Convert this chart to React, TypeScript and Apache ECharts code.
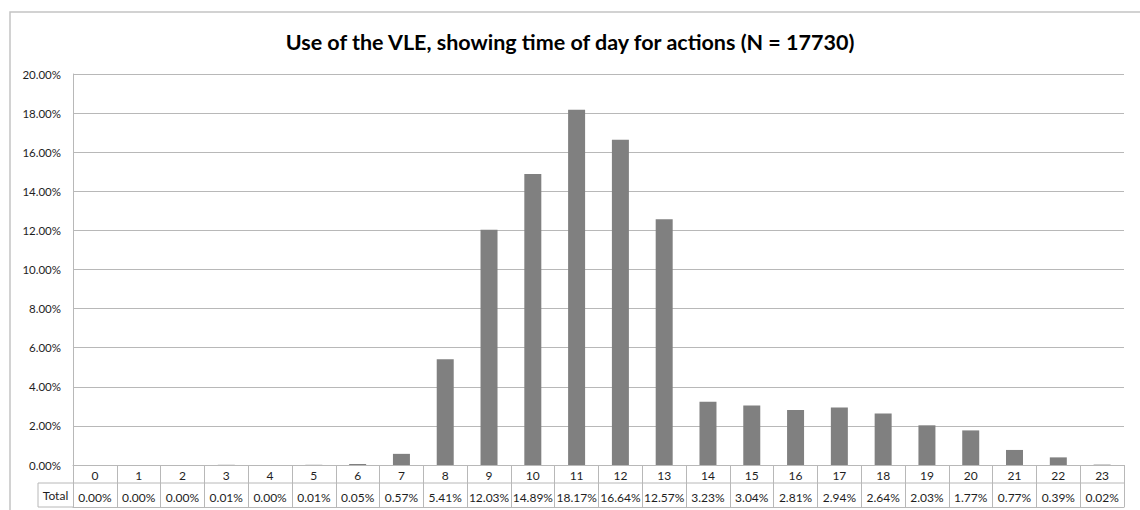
import React, { useEffect, useRef } from "react";
import * as echarts from "echarts";

const hours = ["0","1","2","3","4","5","6","7","8","9","10","11","12","13","14","15","16","17","18","19","20","21","22","23"];
const shares = [0.00, 0.00, 0.00, 0.01, 0.00, 0.01, 0.05, 0.57, 5.41, 12.03, 14.89, 18.17, 16.64, 12.57, 3.23, 3.04, 2.81, 2.94, 2.64, 2.03, 1.77, 0.77, 0.39, 0.02];
const titleText = "Use of the VLE, showing time of day for actions (N = 17730)";
const rowLabel = "Total";

const FONT = "Lato, 'Liberation Sans', sans-serif";
const GRID_LEFT = 73;
const GRID_TOP = 74;
const GRID_RIGHT = 16;
const GRID_BOTTOM = 45;
const ROW1 = 18;
const ROW_TOTAL = 42;
const W = 1140;
const H = 510;
const LINE = "#b8b8b8";
const TXT = "#1e1e1e";
const FS = 11.5;
const FS_TABLE = 12;

export default function App() {
  const ref = useRef<HTMLDivElement>(null);
  useEffect(() => {
    if (!ref.current) return;
    const chart = echarts.init(ref.current, undefined, { renderer: "svg" });
    const axisY = H - GRID_BOTTOM;
    const rightX = W - GRID_RIGHT;
    chart.setOption({
      animation: false,
      backgroundColor: "#ffffff",
      title: {
        text: titleText,
        left: "center",
        top: 26,
        textStyle: { fontFamily: FONT, fontSize: 21.5, fontWeight: "bold", color: "#000" },
      },
      grid: { left: GRID_LEFT, top: GRID_TOP, right: GRID_RIGHT, bottom: GRID_BOTTOM, containLabel: false },
      xAxis: [
        {
          type: "category",
          data: hours,
          position: "bottom",
          axisLine: { show: true, lineStyle: { color: LINE, width: 1 } },
          axisTick: { show: true, length: ROW_TOTAL, interval: 0, lineStyle: { color: LINE, width: 1 } },
          axisLabel: { interval: 0, margin: 4, fontFamily: FONT, fontSize: FS_TABLE, color: TXT },
        },
        {
          type: "category",
          data: shares.map((v) => v.toFixed(2) + "%"),
          position: "bottom",
          offset: ROW_TOTAL,
          axisLine: { show: true, lineStyle: { color: LINE, width: 1 } },
          axisTick: { show: false },
          axisLabel: { interval: 0, inside: true, margin: 4, fontFamily: FONT, fontSize: FS_TABLE, color: TXT },
        },
      ],
      yAxis: {
        type: "value",
        min: 0,
        max: 20,
        interval: 2,
        axisLine: { show: true, lineStyle: { color: LINE, width: 1 } },
        axisTick: { show: false },
        splitLine: { show: true, lineStyle: { color: LINE, width: 1 } },
        axisLabel: {
          margin: 12,
          fontFamily: FONT,
          fontSize: FS,
          color: TXT,
          formatter: (v: number) => v.toFixed(2) + "%",
        },
      },
      series: [
        {
          type: "bar",
          data: shares,
          barWidth: 17,
          itemStyle: { color: "#808080" },
          xAxisIndex: 0,
        },
      ],
      graphic: [
        {
          type: "rect",
          shape: { x: 10, y: 12, width: 1200, height: 600 },
          style: { fill: "none", stroke: "#c4c4c4", lineWidth: 1.5 },
          silent: true,
        },
        {
          type: "line",
          shape: { x1: 38, y1: axisY + ROW1, x2: rightX, y2: axisY + ROW1 },
          style: { stroke: LINE, lineWidth: 1 },
        },
        {
          type: "line",
          shape: { x1: 38, y1: axisY + ROW_TOTAL, x2: GRID_LEFT, y2: axisY + ROW_TOTAL },
          style: { stroke: LINE, lineWidth: 1 },
        },
        {
          type: "line",
          shape: { x1: 38, y1: axisY + ROW1, x2: 38, y2: axisY + ROW_TOTAL },
          style: { stroke: LINE, lineWidth: 1 },
        },
        {
          type: "text",
          x: (38 + GRID_LEFT) / 2,
          y: axisY + (ROW1 + ROW_TOTAL) / 2,
          style: {
            text: rowLabel,
            align: "center",
            verticalAlign: "middle",
            fontFamily: FONT,
            fontSize: FS_TABLE,
            fill: TXT,
          },
        },
      ],
    });
    return () => chart.dispose();
  }, []);
  return (
    <div
      ref={ref}
      style={{ position: "absolute", left: 0, top: 0, width: W, height: H }}
    />
  );
}
